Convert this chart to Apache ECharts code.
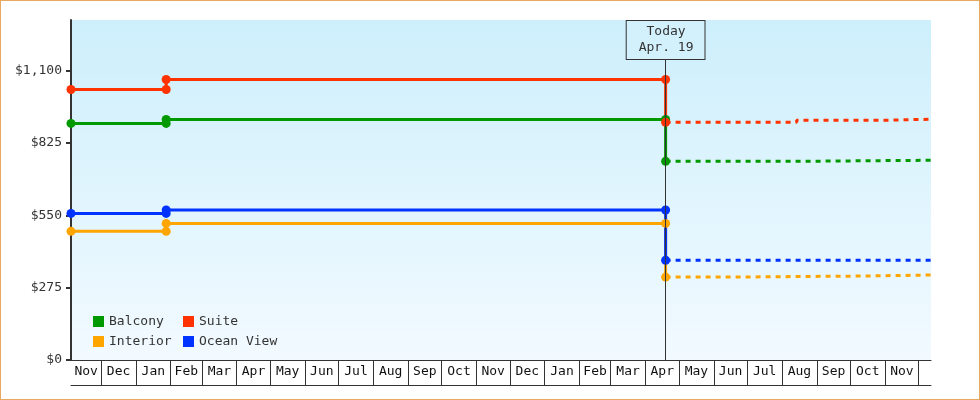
<!DOCTYPE html>
<html>
<head>
<meta charset="utf-8">
<script src="https://cdn.jsdelivr.net/npm/echarts@6/dist/echarts.min.js"></script>
<style>
  html, body { margin: 0; padding: 0; background: #fff; }
  #chart { position: absolute; left: 0; top: 0; width: 980px; height: 400px; }
  #frame { position: absolute; left: 0; top: 0; width: 980px; height: 400px; box-sizing: border-box; border: 1px solid #e8a860; pointer-events: none; }
</style>
</head>
<body>
<div id="chart"></div>
<div id="frame"></div>
<script>
// ---- data ----
const axisStart = '2016-11-04';
const axisEnd = '2018-12-12';
const today = '2018-04-19';
const todayLabel = 'Today\nApr. 19';
const stepDate = '2017-01-28';

// solid (history) series: [date, price]
const balconyPast = [[axisStart, 899], [stepDate, 899], [stepDate, 914], [today, 914], [today, 755]];
const suitePast = [[axisStart, 1028], [stepDate, 1028], [stepDate, 1066], [today, 1066], [today, 903]];
const interiorPast = [[axisStart, 489], [stepDate, 489], [stepDate, 519], [today, 519], [today, 315]];
const oceanPast = [[axisStart, 557], [stepDate, 557], [stepDate, 570], [today, 570], [today, 379]];

// dashed (forecast) series: step-end points
const balconyFuture = [[today, 755], ['2018-08-14', 759], [axisEnd, 759]];
const suiteFuture = [[today, 903], ['2018-08-14', 911], ['2018-11-01', 915], [axisEnd, 915]];
const interiorFuture = [[today, 315], ['2018-06-15', 319], ['2018-10-10', 323], [axisEnd, 323]];
const oceanFuture = [[today, 379], [axisEnd, 379]];

const yTicks = [0, 275, 550, 825, 1100];
const yMax = 1292;

// month cells on the x axis: start dates and labels
const monthStarts = ['2016-11-01', '2016-12-01', '2017-01-01', '2017-02-01', '2017-03-01', '2017-04-01',
  '2017-05-01', '2017-06-01', '2017-07-01', '2017-08-01', '2017-09-01', '2017-10-01', '2017-11-01',
  '2017-12-01', '2018-01-01', '2018-02-01', '2018-03-01', '2018-04-01', '2018-05-01', '2018-06-01',
  '2018-07-01', '2018-08-01', '2018-09-01', '2018-10-01', '2018-11-01', '2018-12-01'];
const monthLabels = ['Nov', 'Dec', 'Jan', 'Feb', 'Mar', 'Apr', 'May', 'Jun', 'Jul', 'Aug', 'Sep', 'Oct', 'Nov',
  'Dec', 'Jan', 'Feb', 'Mar', 'Apr', 'May', 'Jun', 'Jul', 'Aug', 'Sep', 'Oct', 'Nov', ''];

// ---- build ----
function t(s) { const p = s.split('-').map(Number); return new Date(p[0], p[1] - 1, p[2]).getTime(); }
const minT = t(axisStart), maxT = t(axisEnd);
const cellTicks = monthStarts.map(t).filter(v => v > minT && v < maxT);
const cellMids = [], cellNames = [];
monthStarts.forEach((s, i) => {
  const a = Math.max(t(s), minT);
  const b = i + 1 < monthStarts.length ? Math.min(t(monthStarts[i + 1]), maxT) : maxT;
  if (b > a && monthLabels[i]) { cellMids.push((a + b) / 2); cellNames.push(monthLabels[i]); }
});

const FONT = 'DejaVu Sans Mono';
const TXT = '#333';
const colors = { Balcony: '#009900', Suite: '#ff3300', Interior: '#ffa500', 'Ocean View': '#0033ff' };
const conv = arr => arr.map(d => [t(d[0]), d[1]]);

function past(name, data, extra) {
  return Object.assign({
    name, type: 'line', data: conv(data), color: colors[name],
    symbol: 'circle', symbolSize: 9, showSymbol: true,
    lineStyle: { width: 3, color: colors[name] }, itemStyle: { color: colors[name] },
    emphasis: { disabled: true }, animation: false, z: 3
  }, extra || {});
}
function future(name, data) {
  return {
    name, type: 'line', data: conv(data), color: colors[name], step: 'end',
    showSymbol: false, symbol: 'none',
    lineStyle: { width: 3, type: [5, 5], color: colors[name] },
    emphasis: { disabled: true }, animation: false, z: 2
  };
}

const legendBase = {
  orient: 'vertical', top: 310, itemWidth: 11, itemHeight: 11, itemGap: 7, icon: 'rect',
  textStyle: { fontFamily: FONT, fontSize: 13, color: TXT }, selectedMode: false
};

const chart = echarts.init(document.getElementById('chart'), null, { renderer: 'canvas' });
chart.setOption({
  animation: false,
  grid: {
    left: 71, right: 49, top: 20, bottom: 40, show: true, borderWidth: 0,
    backgroundColor: new echarts.graphic.LinearGradient(0, 0, 0, 1, [
      { offset: 0, color: '#cdeffc' }, { offset: 1, color: '#f2faff' }])
  },
  legend: [
    Object.assign({ data: ['Balcony', 'Interior'], left: 88 }, legendBase),
    Object.assign({ data: ['Suite', 'Ocean View'], left: 178 }, legendBase)
  ],
  xAxis: [
    {
      type: 'value', min: minT, max: maxT, position: 'bottom',
      axisLine: { show: true, onZero: false, lineStyle: { color: TXT, width: 1 } },
      axisTick: { show: true, inside: false, length: 25, customValues: cellTicks, lineStyle: { color: TXT, width: 1 } },
      axisLabel: {
        show: true, customValues: cellMids, margin: 12, verticalAlign: 'middle', align: 'center',
        fontFamily: FONT, fontSize: 13, color: '#111', hideOverlap: false,
        formatter: (v) => { const i = cellMids.indexOf(v); return i >= 0 ? cellNames[i] : ''; }
      },
      splitLine: { show: false }
    },
    {
      type: 'value', min: minT, max: maxT, position: 'bottom', offset: 25,
      axisLine: { show: true, onZero: false, lineStyle: { color: TXT, width: 1 } },
      axisTick: { show: false }, axisLabel: { show: false }, splitLine: { show: false }
    }
  ],
  yAxis: {
    type: 'value', min: 0, max: yMax,
    axisLine: { show: true, lineStyle: { color: TXT, width: 2 } },
    axisTick: { show: true, length: 5, customValues: yTicks, lineStyle: { color: TXT, width: 2 } },
    axisLabel: {
      customValues: yTicks, margin: 9, fontFamily: FONT, fontSize: 13, color: TXT,
      formatter: v => '$' + v.toLocaleString('en-US')
    },
    splitLine: { show: false }
  },
  series: [
    past('Balcony', balconyPast, {
      markLine: {
        silent: true, symbol: ['none', 'none'], animation: false,
        lineStyle: { color: TXT, width: 1, type: 'solid' },
        label: {
          show: true, position: 'end', distance: 0, formatter: todayLabel,
          fontFamily: FONT, fontSize: 13, color: TXT, lineHeight: 16, align: 'center',
          backgroundColor: '#d3f1fc', borderColor: TXT, borderWidth: 1, padding: [3, 11, 3, 12]
        },
        emphasis: { disabled: true },
        data: [[{ coord: [t(today), 0] }, { coord: [t(today), 1144] }]]
      }
    }),
    past('Suite', suitePast),
    past('Interior', interiorPast),
    past('Ocean View', oceanPast),
    future('Balcony', balconyFuture),
    future('Suite', suiteFuture),
    future('Interior', interiorFuture),
    future('Ocean View', oceanFuture)
  ]
});
</script>
</body>
</html>
